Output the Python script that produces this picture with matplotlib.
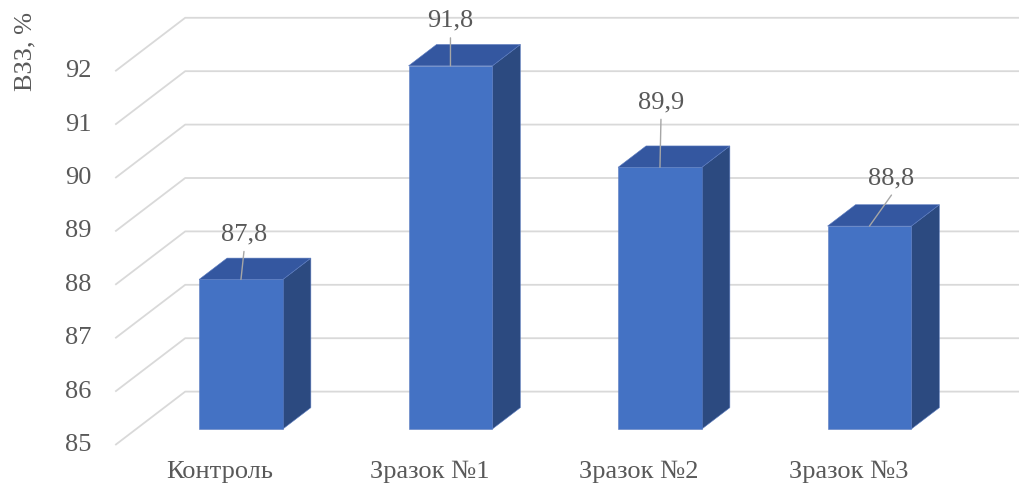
import matplotlib
matplotlib.use("Agg")
import matplotlib.pyplot as plt
from matplotlib.patches import Polygon

# data
categories = ['Контроль', 'Зразок №1', 'Зразок №2', 'Зразок №3']
values = [87.8, 91.8, 89.9, 88.8]
y_ticks = [85, 86, 87, 88, 89, 90, 91, 92]
y_label = 'ВЗЗ, %'

# pseudo-3d geometry (in data units: 1 category step, 1 value unit)
depth_dx = 0.334     # horizontal shift of the full depth
depth_dy = 1.0       # vertical shift of the full depth
bar_w = 0.40
bar_d0, bar_d1 = 0.3, 0.7
wall_left = -0.50
y_min = 85

# label offsets from the bar top (pixels)
label_off = [(3, -45), (0, -45), (1, -65), (22, -48)]

front_col = '#4472C4'
side_col = '#2C4A80'
top_col = '#3457A0'
grid_col = '#D9D9D9'
text_col = '#595959'
fs = 19

plt.rcParams['font.family'] = ['Liberation Serif', 'DejaVu Serif']

fig = plt.figure(figsize=(10.19, 4.91), dpi=100)
ax = fig.add_axes([0, 0, 1, 1])
ax.set_xlim(-1.050, 3.814)
ax.set_ylim(84.139, 93.333)
ax.axis('off')


def proj(u, v, d):
    return (u + d * depth_dx, v + d * depth_dy)


# gridlines: diagonal on the left wall, horizontal on the back wall
for t in y_ticks:
    x0, y0 = proj(wall_left, t, 0)
    x1, y1 = proj(wall_left, t, 1)
    ax.plot([x0, x1, 3.9], [y0, y1, y1], color=grid_col, lw=1.3,
            solid_capstyle='butt', zorder=1)
    ax.text(x0 - 0.115, y0, str(t), ha='right', va='center',
            fontsize=fs, color=text_col)

# bars
for i, v in enumerate(values):
    l, r = i - bar_w / 2, i + bar_w / 2
    fl = proj(l, y_min, bar_d0)
    fr = proj(r, y_min, bar_d0)
    ftr = proj(r, v, bar_d0)
    ftl = proj(l, v, bar_d0)
    br = proj(r, y_min, bar_d1)
    btr = proj(r, v, bar_d1)
    btl = proj(l, v, bar_d1)
    ax.add_patch(Polygon([fr, br, btr, ftr], closed=True, fc=side_col,
                         ec='#5B7BBF', lw=0.4, zorder=3))
    ax.add_patch(Polygon([ftl, ftr, btr, btl], closed=True, fc=top_col,
                         ec='#5B7BBF', lw=0.4, zorder=3))
    ax.add_patch(Polygon([fl, fr, ftr, ftl], closed=True, fc=front_col,
                         ec='#5B7BBF', lw=0.4, zorder=4))

    # data label with leader line
    tx, ty = proj(i, v, bar_d0)
    dx, dy = label_off[i]
    ax.annotate(f'{v:.1f}'.replace('.', ','), xy=(tx, ty),
                xytext=(dx, -dy), textcoords='offset pixels',
                ha='center', va='center', fontsize=fs, color=text_col,
                zorder=6)
    ax.annotate('', xy=(tx, ty), xytext=(dx, -dy - 17),
                textcoords='offset pixels',
                arrowprops=dict(arrowstyle='-', color='#A6A6A6', lw=1.0,
                                shrinkA=0, shrinkB=0), zorder=5)

# category labels
for i, c in enumerate(categories):
    ax.text(i, 84.50, c, ha='center', va='center', fontsize=fs,
            color=text_col)

fig.text(0.025, 0.975, y_label, rotation=90, ha='center', va='top',
         fontsize=fs, color=text_col)

fig.savefig('out.png', dpi=100)
